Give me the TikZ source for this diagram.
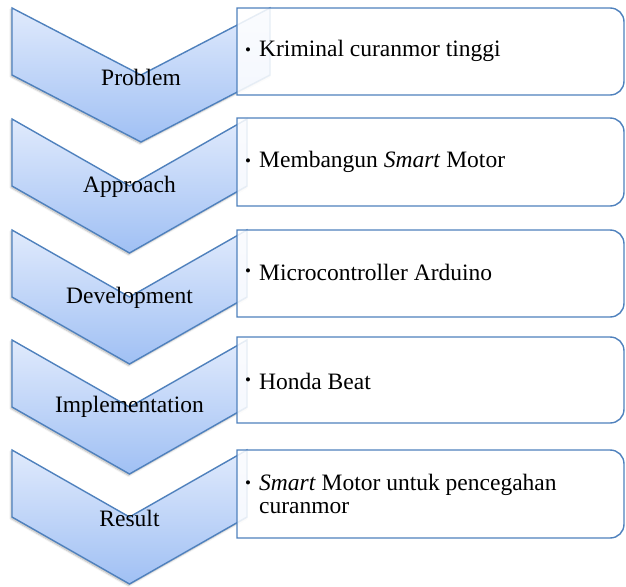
\documentclass[tikz,border=0pt]{standalone}
\usepackage{fontspec}
\setmainfont{Liberation Serif}
\usetikzlibrary{shadows.blur}
\definecolor{edgeblue}{RGB}{79,129,189}
\definecolor{chevtop}{RGB}{224,234,252}
\definecolor{chevbot}{RGB}{160,192,244}
\begin{document}
\begin{tikzpicture}[x=1pt,y=-1pt,
  chev/.style={draw=edgeblue, line width=1.4pt, line join=miter,
    top color=chevtop, bottom color=chevbot,
    blur shadow={shadow blur steps=6, shadow xshift=-1pt, shadow yshift=-1.5pt, shadow opacity=30}},
  panel/.style={draw=edgeblue, line width=1.4pt, fill=white, fill opacity=0.86},
  lab/.style={font=\fontsize{23.5}{24}\selectfont, text=black, inner sep=0pt},
  bul/.style={font=\fontsize{17}{17}\selectfont, text=black, inner sep=0pt},
  txt/.style={font=\fontsize{23.5}{23}\selectfont, text=black, inner sep=0pt, anchor=west, align=left}]
\useasboundingbox (0,0) rectangle (626,586);
% chevron: left L, center C, right R, top T, side height 67, depth 67
\newcommand{\chevshape}[4]{%
  \draw[chev] (#1,#4) -- (#2,#4+67) -- (#3,#4) -- (#3,#4+67) -- (#2,#4+134) -- (#1,#4+67) -- cycle;}
\newcommand{\panelshape}[2]{%
  \draw[panel] (237,#1) -- (610,#1) .. controls (618,#1) and (624,#1+6) .. (624,#1+14)
    -- (624,#1+#2-14) .. controls (624,#1+#2-6) and (618,#1+#2) .. (610,#1+#2) -- (237,#1+#2) -- cycle;}
% 1
\chevshape{12}{141}{270}{8}
\panelshape{8}{87}
\node[lab] (c1) at (141,77) {Problem};
\node[bul] (b1) at (248,52) {\textbullet};
\node[txt] (t1) at (259,51) {Kriminal curanmor tinggi};
% 2
\chevshape{12}{129.5}{247}{119}
\panelshape{118}{88}
\node[lab] (c2) at (129.5,187) {Approach};
\node[bul] (b2) at (248,163) {\textbullet};
\node[txt] (t2) at (259,162) {Membangun \textit{Smart} Motor};
% 3
\chevshape{12}{129.5}{247}{230}
\panelshape{230}{87}
\node[lab] (c3) at (129.5,298) {Development};
\node[bul] (b3) at (248,273) {\textbullet};
\node[txt] (t3) at (259,272) {Microcontroller Arduino};
% 4
\chevshape{12}{129.5}{247}{340}
\panelshape{337}{86}
\node[lab] (c4) at (129.5,407) {Implementation};
\node[bul] (b4) at (248,382) {\textbullet};
\node[txt] (t4) at (259,381) {Honda Beat};
% 5
\chevshape{12}{129.5}{247}{450}
\panelshape{450}{88}
\node[lab] (c5) at (129.5,518) {Result};
\node[bul] (b5) at (248,485) {\textbullet};
\node[txt] (t5) at (259,494) {\textit{Smart} Motor untuk pencegahan\\curanmor};
\end{tikzpicture}
\end{document}
